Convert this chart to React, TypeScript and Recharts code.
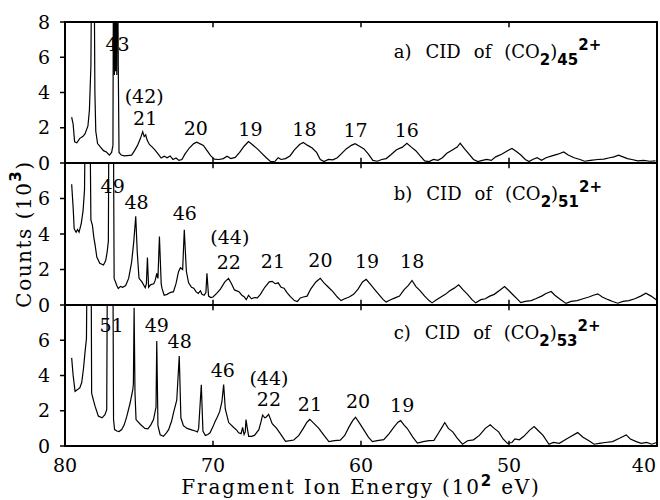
import React from "react";
import { LineChart, Line, XAxis, YAxis, ReferenceArea, ReferenceLine, ReferenceDot } from "recharts";

const serif = "'DejaVu Serif', serif";
const sans = "'DejaVu Sans', sans-serif";

const xTicks = [80, 70, 60, 50, 40];
const innerTicks = [70, 60, 50];
const yTicksTop = [0, 2, 4, 6, 8];
const yTicksLow = [0, 2, 4, 6];

// [energy (10^2 eV), counts (10^3)]; >8 means off scale
const specA: [number, number][] = [
  [79.55, 2.6], [79.45, 2.2], [79.35, 1.2], [79.2, 1.15], [79.0, 1.4], [78.8, 1.5], [78.65, 1.65],
  [78.45, 2.1], [78.35, 3.0], [78.25, 5.5], [78.18, 14], [78.05, 14], [77.98, 4.0], [77.92, 1.8],
  [77.8, 1.1], [77.6, 0.9], [77.4, 0.7], [77.2, 0.62], [77.0, 0.45], [76.85, 0.6], [76.76, 1.0],
  [76.72, 14], [76.66, 5.0], [76.62, 14], [76.58, 5.2], [76.54, 14], [76.5, 5.0], [76.46, 14],
  [76.4, 5.5], [76.35, 0.6], [76.2, 0.45], [76.0, 0.4], [75.8, 0.42], [75.5, 0.45], [75.3, 0.7],
  [75.1, 1.0], [74.9, 1.4], [74.75, 1.78], [74.65, 1.5], [74.55, 1.6], [74.45, 1.3], [74.3, 1.05],
  [74.1, 0.9], [73.9, 0.72], [73.7, 0.5], [73.5, 0.28], [73.3, 0.38], [73.1, 0.3], [72.9, 0.4],
  [72.7, 0.2], [72.5, 0.28], [72.3, 0.15], [72.1, 0.2], [71.9, 0.5], [71.6, 0.85], [71.3, 1.1],
  [71.1, 1.18], [70.9, 1.1], [70.65, 1.0], [70.4, 0.7], [70.15, 0.4], [69.9, 0.22], [69.6, 0.2],
  [69.3, 0.25], [69.05, 0.38], [68.8, 0.25], [68.5, 0.32], [68.2, 0.6], [67.9, 0.95], [67.6, 1.22],
  [67.35, 1.05], [67.0, 0.8], [66.7, 0.55], [66.4, 0.3], [66.1, 0.08], [65.8, 0.1], [65.6, 0.3],
  [65.4, 0.2], [65.1, 0.25], [64.8, 0.4], [64.5, 0.75], [64.15, 1.05], [63.9, 1.17], [63.6, 1.0],
  [63.3, 0.85], [63.0, 0.6], [62.75, 0.2], [62.5, 0.08], [62.2, 0.2], [61.9, 0.18], [61.6, 0.3],
  [61.3, 0.55], [61.0, 0.8], [60.65, 1.0], [60.4, 1.1], [60.1, 0.95], [59.8, 0.8], [59.5, 0.5],
  [59.2, 0.15], [58.9, 0.1], [58.6, 0.2], [58.3, 0.25], [58.0, 0.45], [57.6, 0.75], [57.2, 0.9],
  [56.9, 1.12], [56.6, 0.9], [56.3, 0.7], [56.0, 0.4], [55.7, 0.12], [55.4, 0.08], [55.1, 0.2],
  [54.8, 0.15], [54.5, 0.3], [54.2, 0.55], [53.8, 0.75], [53.5, 0.9], [53.3, 1.12], [53.0, 0.8],
  [52.7, 0.5], [52.4, 0.2], [52.1, 0.08], [51.8, 0.15], [51.5, 0.2], [51.2, 0.15], [50.9, 0.35],
  [50.5, 0.5], [50.1, 0.7], [49.8, 0.82], [49.5, 0.65], [49.2, 0.45], [48.9, 0.2], [48.65, 0.08],
  [48.4, 0.2], [48.1, 0.3], [47.8, 0.15], [47.5, 0.3], [47.1, 0.4], [46.7, 0.5], [46.3, 0.63],
  [46.0, 0.45], [45.6, 0.3], [45.2, 0.2], [44.9, 0.1], [44.5, 0.15], [44.0, 0.2], [43.6, 0.22],
  [43.2, 0.3], [42.9, 0.35], [42.6, 0.45], [42.3, 0.35], [42.0, 0.25], [41.7, 0.2], [41.3, 0.12],
  [40.9, 0.15], [40.5, 0.1], [40.1, 0.12],
];

const specB: [number, number][] = [
  [79.55, 6.8], [79.45, 5.5], [79.38, 4.3], [79.25, 4.1], [79.15, 4.25], [79.05, 4.1], [78.9, 4.6],
  [78.78, 5.3], [78.68, 6.5], [78.6, 14], [78.35, 14], [78.25, 4.8], [78.15, 4.5], [78.05, 3.8],
  [77.97, 3.4], [77.85, 2.7], [77.65, 2.35], [77.4, 2.25], [77.25, 2.5], [77.15, 3.0], [77.07, 3.6],
  [77.02, 14], [76.75, 14], [76.68, 1.5], [76.5, 1.1], [76.4, 0.93], [76.25, 1.05], [76.1, 1.0],
  [75.9, 1.1], [75.7, 1.5], [75.5, 2.4], [75.35, 3.6], [75.22, 5.0], [75.12, 3.0], [75.0, 1.5],
  [74.8, 1.3], [74.58, 0.97], [74.5, 1.2], [74.43, 2.67], [74.35, 1.0], [74.2, 1.15], [74.0, 1.2],
  [73.9, 1.4], [73.8, 1.78], [73.72, 1.5], [73.62, 3.86], [73.5, 1.2], [73.45, 0.95], [73.3, 0.55],
  [73.1, 0.6], [72.9, 0.7], [72.67, 0.75], [72.5, 1.2], [72.33, 1.88], [72.2, 2.1], [72.05, 2.0],
  [71.94, 4.24], [71.8, 1.9], [71.65, 1.25], [71.45, 1.0], [71.3, 0.95], [71.15, 0.75], [71.0, 0.65],
  [70.85, 0.8], [70.75, 0.6], [70.6, 0.55], [70.48, 0.7], [70.41, 1.78], [70.3, 0.5], [70.15, 0.42],
  [70.0, 0.45], [69.75, 0.65], [69.5, 0.9], [69.2, 1.3], [68.95, 1.5], [68.75, 1.2], [68.55, 0.85],
  [68.25, 0.75], [68.05, 0.55], [67.9, 0.47], [67.75, 0.3], [67.6, 0.55], [67.4, 0.35], [67.2, 0.42],
  [67.0, 0.4], [66.8, 0.6], [66.5, 1.0], [66.2, 1.3], [66.0, 1.33], [65.8, 1.2], [65.6, 1.25],
  [65.4, 1.0], [65.2, 0.95], [65.0, 0.7], [64.77, 0.47], [64.5, 0.25], [64.3, 0.2], [64.1, 0.4],
  [63.9, 0.45], [63.64, 0.5], [63.4, 0.9], [63.05, 1.3], [62.75, 1.5], [62.5, 1.25], [62.2, 1.0],
  [61.9, 0.75], [61.6, 0.45], [61.35, 0.25], [61.1, 0.35], [60.8, 0.45], [60.5, 0.6], [60.2, 0.9],
  [59.9, 1.3], [59.65, 1.45], [59.4, 1.2], [59.1, 0.9], [58.8, 0.6], [58.5, 0.3], [58.3, 0.17],
  [58.0, 0.3], [57.7, 0.4], [57.4, 0.5], [57.1, 0.85], [56.8, 1.1], [56.55, 1.38], [56.3, 1.05],
  [56.0, 0.8], [55.7, 0.5], [55.4, 0.25], [55.2, 0.12], [54.9, 0.3], [54.6, 0.45], [54.3, 0.6],
  [54.0, 0.8], [53.7, 0.95], [53.4, 1.14], [53.1, 0.85], [52.8, 0.6], [52.5, 0.3], [52.25, 0.12],
  [51.9, 0.3], [51.6, 0.35], [51.3, 0.5], [51.0, 0.6], [50.6, 0.85], [50.3, 1.04], [50.0, 0.8],
  [49.7, 0.55], [49.4, 0.3], [49.2, 0.13], [48.9, 0.2], [48.5, 0.25], [48.2, 0.35], [47.8, 0.5],
  [47.5, 0.65], [47.15, 0.76], [46.9, 0.55], [46.5, 0.3], [46.15, 0.09], [45.8, 0.2], [45.4, 0.25],
  [45.0, 0.35], [44.6, 0.45], [44.3, 0.55], [44.0, 0.63], [43.7, 0.45], [43.3, 0.3], [43.0, 0.2],
  [42.65, 0.1], [42.3, 0.2], [41.9, 0.25], [41.5, 0.35], [41.1, 0.5], [40.75, 0.66], [40.4, 0.5],
  [40.05, 0.3],
];

const specC: [number, number][] = [
  [79.55, 5.0], [79.45, 4.0], [79.32, 3.1], [79.15, 3.2], [79.0, 3.3], [78.87, 3.6], [78.75, 4.4],
  [78.65, 5.3], [78.55, 6.1], [78.48, 14], [78.25, 14], [78.2, 3.0], [78.08, 2.6], [77.97, 2.26],
  [77.75, 1.7], [77.5, 1.6], [77.3, 1.78], [77.18, 2.06], [77.12, 14], [76.78, 14], [76.72, 1.5],
  [76.65, 0.93], [76.5, 0.85], [76.35, 0.82], [76.17, 0.93], [76.0, 1.2], [75.82, 1.69], [75.6, 2.44],
  [75.42, 3.2], [75.38, 3.5], [75.33, 7.84], [75.27, 3.0], [75.2, 1.5], [74.9, 1.22], [74.6, 1.0],
  [74.4, 0.97], [74.2, 1.2], [74.02, 1.5], [73.9, 2.0], [73.85, 2.2], [73.8, 5.95], [73.72, 1.15],
  [73.57, 0.64], [73.35, 0.55], [73.15, 0.75], [73.0, 0.93], [72.8, 1.4], [72.67, 1.88], [72.45, 2.6],
  [72.28, 5.1], [72.17, 1.6], [72.0, 1.15], [71.75, 1.0], [71.5, 0.93], [71.2, 0.85], [71.05, 0.8],
  [70.97, 1.0], [70.79, 3.48], [70.68, 0.85], [70.52, 0.6], [70.35, 0.65], [70.2, 0.75], [70.0, 1.1],
  [69.85, 1.4], [69.73, 1.6], [69.55, 1.95], [69.4, 2.5], [69.28, 3.48], [69.17, 2.1], [68.94, 1.33],
  [68.6, 1.05], [68.4, 0.9], [68.27, 0.75], [68.1, 0.7], [68.0, 1.05], [67.9, 0.65], [67.82, 0.8],
  [67.77, 1.5], [67.68, 1.0], [67.59, 0.55], [67.4, 0.55], [67.2, 0.6], [66.9, 0.93], [66.75, 1.4],
  [66.65, 1.76], [66.5, 1.6], [66.4, 1.65], [66.24, 1.8], [66.0, 1.27], [65.7, 1.0], [65.44, 0.69],
  [65.1, 0.27], [64.8, 0.3], [64.54, 0.34], [64.2, 0.6], [63.9, 1.0], [63.65, 1.35], [63.46, 1.51],
  [63.2, 1.3], [62.85, 1.0], [62.5, 0.6], [62.17, 0.25], [61.8, 0.3], [61.4, 0.33], [61.1, 0.6],
  [60.8, 1.1], [60.55, 1.45], [60.37, 1.63], [60.1, 1.3], [59.8, 0.9], [59.5, 0.5], [59.23, 0.25],
  [58.9, 0.3], [58.46, 0.36], [58.1, 0.7], [57.75, 1.1], [57.5, 1.35], [57.32, 1.44], [57.1, 1.2],
  [56.87, 0.99], [56.5, 0.5], [56.19, 0.17], [55.8, 0.25], [55.4, 0.3], [55.07, 0.32], [54.75, 0.75],
  [54.5, 1.1], [54.34, 1.33], [54.1, 1.0], [53.8, 0.8], [53.5, 0.45], [53.14, 0.1], [52.8, 0.3],
  [52.4, 0.35], [52.0, 0.6], [51.6, 1.0], [51.27, 1.2], [51.0, 1.0], [50.7, 0.8], [50.4, 0.4],
  [50.1, 0.15], [49.8, 0.2], [49.6, 0.4], [49.3, 0.35], [49.0, 0.55], [48.6, 0.9], [48.3, 1.1],
  [48.0, 0.85], [47.7, 0.6], [47.3, 0.1], [47.0, 0.2], [46.6, 0.15], [46.2, 0.35], [45.8, 0.55],
  [45.36, 0.76], [45.0, 0.5], [44.6, 0.3], [44.25, 0.1], [43.9, 0.15], [43.5, 0.2], [43.0, 0.25],
  [42.5, 0.45], [42.08, 0.63], [41.8, 0.4], [41.4, 0.25], [41.07, 0.15], [40.7, 0.2], [40.35, 0.1],
  [40.02, 0.2],
];

// peak labels: [text, energy, counts at baseline]
const labelsA: [string, number, number][] = [
  ["43", 76.45, 6.38], ["(42)", 74.65, 3.41], ["21", 74.58, 2.16], ["20", 71.16, 1.59],
  ["19", 67.47, 1.53], ["18", 63.82, 1.53], ["17", 60.37, 1.48], ["16", 56.91, 1.48],
];
const labelsB: [string, number, number][] = [
  ["49", 76.78, 6.32], ["48", 75.16, 5.4], ["46", 71.91, 4.77], ["(44)", 68.86, 3.41],
  ["22", 68.93, 2.05], ["21", 65.95, 2.1], ["20", 62.74, 2.16], ["19", 59.59, 2.1], ["18", 56.54, 2.1],
];
const labelsC: [string, number, number][] = [
  ["51", 76.85, 6.48], ["49", 73.8, 6.48], ["48", 72.25, 5.57], ["46", 69.34, 3.92],
  ["(44)", 66.22, 3.47], ["22", 66.22, 2.27], ["21", 63.45, 1.99], ["20", 60.2, 2.16], ["19", 57.22, 1.93],
];

// panel titles: [letter, cluster size, energy, counts]
const titleA: [string, string, number, number] = ["a)", "45", 57.79, 5.97];
const titleB: [string, string, number, number] = ["b)", "51", 57.79, 5.91];
const titleC: [string, string, number, number] = ["c)", "53", 57.79, 6.08];

const XTick = (p: any) => {
  const last = p.payload.value === 40;
  return (
    <text x={last ? p.x - 1 : p.x} y={p.y + 18} textAnchor={last ? "end" : "middle"} fontFamily={serif} fontSize={19} fill="#000">
      {p.payload.value}
    </text>
  );
};

const XTitle = (p: any) => {
  const vb = p.viewBox;
  return (
    <text x={vb.x + vb.width / 2} y={vb.y + 48} textAnchor="middle" fontFamily={serif} fontSize={20} letterSpacing={1.8} fill="#000">
      Fragment Ion Energy (10<tspan dy={-8} fontFamily={sans} fontWeight="bold" fontSize={15}>2</tspan>
      <tspan dy={8}> eV)</tspan>
    </text>
  );
};

const YTitle = (p: any) => {
  const vb = p.viewBox;
  const cx = 24;
  const cy = vb.y + vb.height / 2;
  return (
    <text x={cx} y={cy} transform={`rotate(-90 ${cx} ${cy})`} textAnchor="middle" dominantBaseline="central" fontFamily={serif} fontSize={20} letterSpacing={1.5} fill="#000">
      Counts (10<tspan dy={-8} fontFamily={sans} fontWeight="bold" fontSize={15}>3</tspan>
      <tspan dy={8}>)</tspan>
    </text>
  );
};

function Panel({ spec, labels, title, top, bottom, yTicks, showX, showY }: any) {
  const data = spec.map(([e, v]: [number, number]) => ({ e, v }));
  const sub = { fontFamily: sans, fontWeight: "bold", fontSize: 15 } as any;
  return (
    <div style={{ position: "absolute", left: 0, top: 0 }}>
      <LineChart width={660} height={500} data={data} margin={{ top, bottom, left: 25, right: 3 }}>
        <XAxis
          type="number"
          dataKey="e"
          domain={[40, 80]}
          reversed
          allowDataOverflow
          hide={!showX}
          ticks={xTicks}
          interval={0}
          tick={<XTick />}
          tickLine={false}
          axisLine={false}
          height={30}
          label={showX ? { content: XTitle } : undefined}
        />
        <YAxis
          type="number"
          domain={[0, 8]}
          allowDataOverflow
          ticks={yTicks}
          interval={0}
          width={40}
          axisLine={false}
          tickSize={5}
          tickMargin={10}
          tickLine={{ stroke: "#000", strokeWidth: 1.5 }}
          tick={{ fontFamily: serif, fontSize: 19, fill: "#000" }}
          label={showY ? { content: YTitle } : undefined}
        />
        <ReferenceArea x1={80} x2={40} y1={0} y2={8} fill="none" stroke="#000" strokeWidth={2} ifOverflow="visible" />
        {innerTicks.map((t) => (
          <ReferenceLine key={"b" + t} segment={[{ x: t, y: 0 }, { x: t, y: 0.3 }]} stroke="#000" strokeWidth={1.5} />
        ))}
        {innerTicks.map((t) => (
          <ReferenceLine key={"t" + t} segment={[{ x: t, y: 8 }, { x: t, y: 7.7 }]} stroke="#000" strokeWidth={1.5} />
        ))}
        <Line dataKey="v" type="linear" stroke="#000" strokeWidth={1.2} dot={false} isAnimationActive={false} />
        {labels.map(([text, e, v]: [string, number, number], i: number) => (
          <ReferenceDot
            key={i}
            x={e}
            y={v}
            r={0}
            ifOverflow="visible"
            shape={(p: any) => (
              <text x={p.cx} y={p.cy} textAnchor="middle" fontFamily={serif} fontSize={19} fill="#000">
                {text}
              </text>
            )}
          />
        ))}
        <ReferenceDot
          x={title[2]}
          y={title[3]}
          r={0}
          ifOverflow="visible"
          shape={(p: any) => (
            <text x={p.cx} y={p.cy} fontFamily={serif} fontSize={18} fill="#000">
              <tspan>{title[0]}</tspan>
              <tspan dx={14}>CID</tspan>
              <tspan dx={13}>of</tspan>
              <tspan dx={13}>(CO</tspan>
              <tspan dy={7} {...sub}>2</tspan>
              <tspan dy={-7}>)</tspan>
              <tspan dy={7} {...sub}>{title[1]}</tspan>
              <tspan dy={-15} {...sub}>2+</tspan>
            </text>
          )}
        />
      </LineChart>
    </div>
  );
}

export default function App() {
  return (
    <div style={{ position: "absolute", left: 0, top: 0, width: 660, height: 500, background: "#fff" }}>
      <Panel spec={specA} labels={labelsA} title={titleA} top={22} bottom={337} yTicks={yTicksTop} />
      <Panel spec={specB} labels={labelsB} title={titleB} top={163} bottom={195} yTicks={yTicksLow} showY />
      <Panel spec={specC} labels={labelsC} title={titleC} top={305} bottom={24} yTicks={yTicksLow} showX />
    </div>
  );
}
